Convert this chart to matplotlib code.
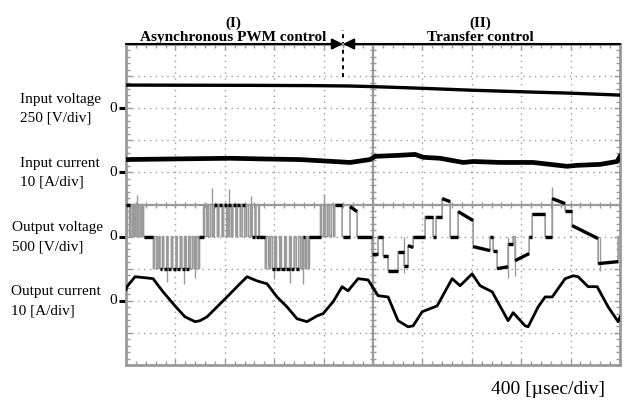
import numpy as np
import matplotlib
matplotlib.use('Agg')
from matplotlib import rcParams

rcParams['font.family'] = 'Liberation Serif'
import matplotlib.pyplot as plt
from matplotlib.collections import LineCollection

""" oscilloscope capture: asynchronous PWM -> transfer control """

# time base: 400 us/div, 10 div
us_per_div = 400

# input voltage [V], 250 V/div
t_in_v = [0, 500, 1000, 1500, 1800, 2000, 2400, 2800, 3200, 3600, 4000]
in_v = [180, 179, 178, 176, 173, 168, 155, 140, 128, 117, 102]

# input current [A], 10 A/div
t_in_i = [0, 400, 842, 1100, 1409, 1814, 1976, 2017, 2200, 2341, 2406, 2543,
          2730, 2811, 3029, 3296, 3571, 3652, 3839, 3977, 4000]
in_i = [4.0, 4.2, 4.4, 4.2, 4.0, 3.1, 4.0, 5.0, 5.3, 5.6, 4.7, 4.4,
        3.1, 3.4, 3.1, 3.1, 1.9, 2.2, 2.5, 3.4, 5.0]

# output current [A], 10 A/div
t_out_i = [0, 8, 73, 150, 219, 300, 397, 478, 559, 599, 656, 737, 818, 899, 980,
           1061, 1142, 1223, 1304, 1385, 1466, 1547, 1596, 1677, 1750, 1798, 1879,
           1960, 2041, 2122, 2203, 2284, 2325, 2398, 2519, 2641, 2705, 2803, 2867,
           2965, 3094, 3135, 3232, 3256, 3337, 3394, 3451, 3556, 3621, 3661, 3742,
           3815, 3904, 3985, 4000]
out_i = [3.5, 4.4, 7.5, 7.2, 6.9, 2.8, -1.6, -5.0, -6.5, -6.2, -5.0, -1.9, 1.2, 4.4, 7.5,
         6.2, 5.3, 1.2, -1.9, -5.6, -6.5, -4.7, -4.0, -0.3, 4.4, 3.1, 6.9,
         6.5, 1.6, 1.2, -6.2, -8.1, -7.8, -3.4, -1.6, 6.9, 4.7, 8.4, 4.7,
         2.8, -6.2, -3.7, -7.8, -8.1, -1.9, 1.2, 1.2, 6.9, 7.8, 7.5, 4.4,
         4.4, -1.9, -6.5, -5.0]

# output voltage [V], 500 V/div
# asynchronous PWM part: pulse (on, off) times in us, 0 V elsewhere
pwm_pos = [(0, 30), (40, 55), (68, 78), (92, 100), (115, 122), (135, 142),
           (628, 636), (655, 668), (685, 702), (715, 740), (752, 778), (790, 815),
           (828, 852), (865, 890), (902, 925), (940, 960), (975, 992), (1010, 1022),
           (1045, 1052), (1075, 1080),
           (1575, 1582), (1600, 1612), (1630, 1645), (1662, 1680), (1690, 1750)]
pwm_neg = [(222, 230), (248, 262), (275, 295), (305, 330), (340, 368), (378, 405),
           (415, 440), (452, 475), (488, 508), (522, 540), (555, 568), (585, 595),
           (1128, 1136), (1155, 1168), (1185, 1205), (1218, 1245), (1258, 1285),
           (1298, 1325), (1338, 1362), (1378, 1398), (1415, 1430), (1450, 1462),
           (1478, 1485)]
pwm_level = 500
t_switch = 1757

# transfer control part: segments (t start, t end, v start, v end)
seg_t0 = [1757, 1814, 1871, 1993, 2041, 2082, 2122, 2203, 2252, 2284, 2325, 2422, 2487,
          2510, 2560, 2625, 2689, 2811, 2948, 2973, 3005, 3094, 3135, 3151, 3264, 3289,
          3394, 3451, 3556, 3612, 3823, 3985]
seg_t1 = [1814, 1871, 1993, 2041, 2082, 2122, 2203, 2252, 2284, 2325, 2422, 2487, 2510,
          2560, 2625, 2689, 2811, 2948, 2973, 3005, 3094, 3135, 3151, 3264, 3289, 3394,
          3451, 3556, 3612, 3823, 3985, 4000]
seg_v0 = [0, 467, 0, -265, 0, -296, -530, -234, -452, -140, 0, 312, 0,
          312, 592, 0, 390, -156, 0, -218, -499, -109, 0, -374, 0, 358,
          0, 592, 405, 171, -421, 0]
seg_v1 = [0, 390, 0, -265, 0, -296, -530, -234, -452, -170, 0, 312, 0,
          312, 545, 0, 250, -218, 0, -218, -470, -109, 0, -265, 0, 358,
          0, 514, 405, -31, -390, 0]

# switching spikes (time, peak voltage)
spike_t = [10, 92, 700, 830, 1010, 1600, 330, 470, 560, 1200, 1330, 1430,
           3451, 3094, 3151, 3839, 2252]
spike_v = [700, 650, 760, 740, 640, 660, -700, -740, -650, -660, -720, -740,
           780, -640, -620, -540, -560]


def pwm_segments(pos, neg, level, t_end):
    events = sorted([(a, b, level) for a, b in pos] + [(a, b, -level) for a, b in neg])
    segs = []
    t = 0
    for a, b, lev in events:
        if a > t:
            segs.append((t, a, 0, 0))
        segs.append((a, b, lev, lev))
        t = b
    if t < t_end:
        segs.append((t, t_end, 0, 0))
    return segs


def main():
    fig = plt.figure(figsize=(6.28, 4.04), dpi=100)
    ax = fig.add_axes([126 / 628, 1 - 365 / 404, 494 / 628, 321 / 404])
    ax.set_xlim(0, 10 * us_per_div)
    ax.set_ylim(0, 10)

    grey = '#9a9a9a'
    # scope graticule
    for k in range(1, 10):
        if k == 5:
            continue
        ax.axvline(k * us_per_div, color=grey, lw=1.0, ls=(0, (1, 3.2)), zorder=1)
        ax.axhline(k, color=grey, lw=1.0, ls=(0, (1, 3.2)), zorder=1)
    ax.axvline(5 * us_per_div, color=grey, lw=1.6, zorder=1)
    ax.axhline(5, color=grey, lw=1.6, zorder=1)
    xs = np.arange(80, 4000, 80)
    ax.plot(xs, np.full(len(xs), 5.0), ls='none', marker='|', ms=5, mew=1, color=grey, zorder=1)
    ys = np.arange(0.2, 10, 0.2)
    ax.plot(np.full(len(ys), 2000.0), ys, ls='none', marker='_', ms=5, mew=1, color=grey, zorder=1)

    for s in ax.spines.values():
        s.set_color(grey)
        s.set_linewidth(2.0)
    ax.set_xticks(np.arange(0, 4001, 400))
    ax.set_xticks(np.arange(0, 4001, 80), minor=True)
    ax.set_yticks(np.arange(0, 11, 1))
    ax.set_yticks(np.arange(0, 10.01, 0.2), minor=True)
    ax.tick_params(which='both', direction='in', color=grey, labelleft=False, labelbottom=False,
                   top=True, right=True, width=1)
    ax.tick_params(which='major', length=4)
    ax.tick_params(which='minor', length=3)

    # channel zero markers and labels
    labels = [('Input voltage', '250 [V/div]', 8, 20),
              ('Input current', '10 [A/div]', 6, 20),
              ('Output voltage', '500 [V/div]', 4, 12),
              ('Output current', '10 [A/div]', 2, 11)]
    for name, scale, y0, xpx in labels:
        ax.plot([-60, 0], [y0, y0], color='k', lw=2.2, clip_on=False, solid_capstyle='butt')
        ax.text(-75, y0, '0', ha='right', va='center', fontsize=11)
        ax.text(xpx / 628, 1 - (365 - y0 * 32.1 - 9) / 404, name, transform=fig.transFigure,
                ha='left', va='center', fontsize=11)
        ax.text(xpx / 628, 1 - (365 - y0 * 32.1 + 10) / 404, scale, transform=fig.transFigure,
                ha='left', va='center', fontsize=11)

    # input voltage / current
    ax.plot(t_in_v, 8 + np.array(in_v) / 250, color='k', lw=2.4, zorder=3)
    ax.plot(t_in_i, 6 + np.array(in_i) / 10, color='k', lw=3.4, zorder=3)

    # output voltage
    segs = pwm_segments(pwm_pos, pwm_neg, pwm_level, t_switch)
    segs += list(zip(seg_t0, seg_t1, seg_v0, seg_v1))
    px, py = [], []
    for a, b, va, vb in segs:
        px += [a, b]
        py += [4 + va / 500, 4 + vb / 500]
    ax.vlines(spike_t, 4, 4 + np.array(spike_v) / 500, color=grey, lw=1.0, zorder=2)
    ax.plot(px, py, color=grey, lw=1.2, zorder=2)
    dwell = [[(a, 4 + va / 500), (b, 4 + vb / 500)] for a, b, va, vb in segs if b - a >= 20]
    ax.add_collection(LineCollection(dwell, colors='k', linewidths=2.4, zorder=3))

    # output current
    ax.plot(t_out_i, 2 + np.array(out_i) / 10, color='k', lw=2.0, zorder=3)

    # mode annotation
    ya = 10.0
    ax.annotate('', xy=(t_switch, ya), xytext=(0, ya), annotation_clip=False,
                arrowprops=dict(arrowstyle='-|>', color='k', lw=1.5, mutation_scale=16,
                                shrinkA=0, shrinkB=0))
    ax.annotate('', xy=(t_switch, ya), xytext=(4000, ya), annotation_clip=False,
                arrowprops=dict(arrowstyle='-|>', color='k', lw=1.5, mutation_scale=16,
                                shrinkA=0, shrinkB=0))
    ax.plot([t_switch, t_switch], [8.97, 10.45], color='k', lw=1.4, ls=(0, (2, 2)), clip_on=False)
    ax.text(867, 10.66, '(I)', ha='center', va='center', fontsize=11, fontweight='bold')
    ax.text(867, 10.2, 'Asynchronous PWM control', ha='center', va='center', fontsize=11,
            fontweight='bold')
    ax.text(2870, 10.66, '(II)', ha='center', va='center', fontsize=11, fontweight='bold')
    ax.text(2870, 10.2, 'Transfer control', ha='center', va='center', fontsize=11,
            fontweight='bold')

    fig.text(548 / 628, 1 - 390 / 404, '400 [\u00b5sec/div]', ha='center', va='center', fontsize=14)

    fig.savefig('out.png', dpi=100)


if __name__ == "__main__":
    main()
